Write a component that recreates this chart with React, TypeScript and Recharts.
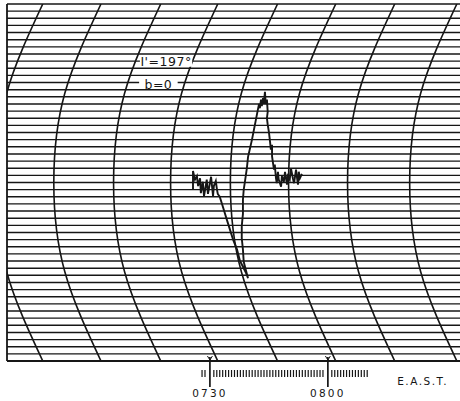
import { ComposedChart, Line, XAxis, YAxis, ReferenceLine, ReferenceArea } from "recharts";

// time axis in minutes after 0700 E.A.S.T., chart divisions on y
const X_DOMAIN = [-21.6, 93.6];
const DIV_LINES = Array.from({ length: 51 }, (_, i) => i);

// chart paper arcs (minutes where each arc meets top/bottom edge)
const ARC_MIN = [-12.5, 2.3, 17.5, 32.0, 47.2, 62.0, 77.0, 92.8];
const ARC_LEVELS = [0, 12.5, 25, 37.5, 50];
const ARC_BOW = [0, -9.2, -12.0, -9.2, 0];

const MAJOR_MIN = [30, 60];
const MAJOR_LABELS = ["0730", "0800"];

// recorder trace
const TRACE_MIN = [
  25.7, 25.7, 26.2, 26.7, 27.0, 27.5, 27.7, 28.2, 28.5, 29.0, 29.2, 29.5, 30.0, 30.3, 30.8, 31.0, 31.5, 31.8, 32.0,
  32.5, 33.3, 34.3, 35.1, 35.9, 36.9, 37.6, 38.4, 39.2, 39.7,
  39.2, 38.6, 38.4, 38.1, 38.1, 38.4, 38.4, 38.6, 38.9, 39.4, 39.7, 40.2, 40.7, 41.2, 41.7, 42.2, 42.5,
  42.7, 43.0, 43.2, 43.5, 43.7, 44.0, 44.2, 44.5, 44.7, 44.5, 44.7,
  45.0, 45.3, 45.5, 45.8, 45.8, 46.0, 46.3, 46.5, 46.8, 47.0, 47.3, 47.5, 48.1, 48.3, 48.8, 49.1, 49.6, 49.8,
  50.3, 50.6, 51.1, 51.4, 51.9, 52.1, 52.4, 52.6, 52.9, 53.4,
];
const TRACE_DIV = [
  24.0, 26.6, 25.4, 25.9, 24.5, 25.6, 23.5, 25.1, 23.1, 24.7, 25.4, 23.4, 24.9, 25.8, 23.1, 24.5, 25.2, 24.0, 23.4,
  23.0, 21.6, 19.8, 18.4, 17.0, 15.6, 14.1, 13.2, 12.3, 11.6,
  12.6, 13.9, 15.6, 17.2, 18.9, 20.6, 22.6, 24.0, 25.1, 27.0, 28.6, 29.8, 31.0, 32.4, 33.8, 35.2, 36.0,
  35.4, 36.6, 35.7, 36.8, 36.0, 37.7, 36.0, 36.6, 34.9, 34.0, 33.1,
  32.1, 30.7, 29.6, 30.3, 28.7, 27.9, 26.8, 27.5, 25.6, 24.9, 26.5, 25.4, 24.4, 25.9, 25.1, 26.5, 24.7, 25.9,
  25.4, 27.0, 25.6, 24.9, 26.8, 25.9, 24.7, 26.5, 25.6, 26.2,
];

const MARKS: number[] = [];
for (let m = 28; m <= 70.6; m += 0.75) {
  if (MAJOR_MIN.every((t) => Math.abs(t - m) > 0.9)) MARKS.push(m);
}
const TICKS = [...MARKS, ...MAJOR_MIN].sort((a, b) => a - b);

const INK = "#161616";

const traceData = TRACE_MIN.map((x, i) => ({ x, y: TRACE_DIV[i] }));

const TimeTick = (props: any) => {
  const { x, y, payload } = props;
  const idx = MAJOR_MIN.indexOf(payload.value);
  if (idx >= 0) {
    return (
      <g>
        <line x1={x} x2={x} y1={y - 4} y2={y + 26} stroke={INK} strokeWidth={1.7} />
        <path d={`M${x - 2.5},${y - 5} L${x},${y - 1} L${x + 2.5},${y - 5}`} fill="none" stroke={INK} strokeWidth={1} />
        <text x={x} y={y + 36} textAnchor="middle" fontFamily="DejaVu Sans" fontSize={10.5} letterSpacing={2.2} fill={INK}>
          {MAJOR_LABELS[idx]}
        </text>
      </g>
    );
  }
  return <line x1={x} x2={x} y1={y + 9} y2={y + 16} stroke={INK} strokeWidth={1.2} />;
};

export default function App() {
  return (
    <div style={{ position: "absolute", left: 0, top: 0, background: "#fff" }}>
      <ComposedChart width={460} height={401} margin={{ top: 4, right: 0, bottom: 0, left: 7 }}>
        <XAxis
          type="number"
          dataKey="x"
          domain={X_DOMAIN}
          allowDataOverflow
          ticks={TICKS}
          interval={0}
          height={40}
          axisLine={false}
          tickLine={false}
          tickSize={0}
          tickMargin={0}
          tick={<TimeTick />}
          label={{
            value: "E.A.S.T.",
            position: "insideRight",
            offset: 12,
            fontFamily: "DejaVu Sans",
            fontSize: 10.5,
            letterSpacing: 1.5,
            fill: INK,
          }}
        />
        <YAxis type="number" domain={[0, 50]} allowDataOverflow hide />

        {DIV_LINES.map((v) => (
          <ReferenceLine key={`h-${v}`} y={v} stroke={INK} strokeWidth={v === 0 ? 2 : 1.4} />
        ))}
        <ReferenceLine x={X_DOMAIN[0]} stroke={INK} strokeWidth={1.8} />

        {ARC_MIN.map((a) => (
          <Line
            key={`arc-${a}`}
            data={ARC_LEVELS.map((v, i) => ({ x: a + ARC_BOW[i], y: v }))}
            dataKey="y"
            type="natural"
            stroke={INK}
            strokeWidth={1.6}
            dot={false}
            activeDot={false}
            isAnimationActive={false}
          />
        ))}

        <Line
          data={traceData}
          dataKey="y"
          type="linear"
          stroke={INK}
          strokeWidth={1.9}
          dot={false}
          activeDot={false}
          isAnimationActive={false}
        />

        <ReferenceArea
          x1={12.2}
          x2={25.5}
          y1={41.2}
          y2={42.6}
          fill="#fff"
          fillOpacity={1}
          stroke="none"
          zIndex={1500}
          label={{ value: "I'=197°", position: "center", fontFamily: "DejaVu Sans", fontSize: 12.5, letterSpacing: 0.5, fill: INK }}
        />
        <ReferenceArea
          x1={12.0}
          x2={21.8}
          y1={38.1}
          y2={39.4}
          fill="#fff"
          fillOpacity={1}
          stroke="none"
          zIndex={1500}
          label={{ value: "b=0", position: "center", fontFamily: "DejaVu Sans", fontSize: 12.5, letterSpacing: 0.5, fill: INK }}
        />
      </ComposedChart>
    </div>
  );
}
